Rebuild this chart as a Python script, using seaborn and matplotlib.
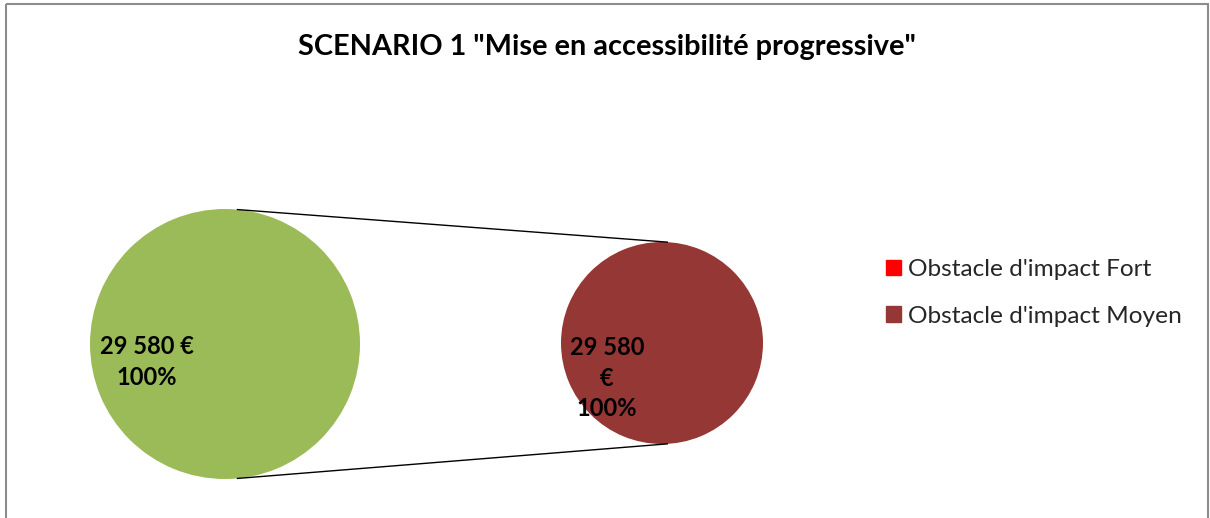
import matplotlib
matplotlib.use("Agg")
import matplotlib.pyplot as plt
import matplotlib.patches as mpatches
import numpy as np
import seaborn as sns

# Data
title = 'SCENARIO 1 "Mise en accessibilité progressive"'
main_labels = ["Total"]
main_values = [29580]
sub_labels = ["Obstacle d'impact Fort", "Obstacle d'impact Moyen"]
sub_values = [0, 29580]

main_color = "#9BBB59"
sub_colors = ["#FF0000", "#953735"]

sns.set_theme(style="white")
plt.rcParams["font.family"] = ["Lato", "DejaVu Sans"]

W, H = 1210, 518
fig = plt.figure(figsize=(W / 100, H / 100), dpi=100)
ax = fig.add_axes([0, 0, 1, 1])

def fmt_eur(v):
    return f"{v:,.0f}".replace(",", " ") + " €"

# Main pie
c1, r1 = (225, 344), 135
ax.pie(main_values, colors=[main_color], center=c1, radius=r1,
       startangle=90, counterclock=False,
       wedgeprops=dict(linewidth=0))

# Secondary pie (breakdown)
c2, r2 = (662, 343), 101
ax.pie(sub_values, colors=sub_colors, center=c2, radius=r2,
       startangle=90, counterclock=False,
       wedgeprops=dict(linewidth=0))

# Connector lines between the two pies
a1 = np.deg2rad(85)
a2 = np.deg2rad(86.6)
for s in (1, -1):
    x0 = c1[0] + r1 * np.cos(a1)
    y0 = c1[1] - s * r1 * np.sin(a1)
    x1 = c2[0] + r2 * np.cos(a2)
    y1 = c2[1] - s * r2 * np.sin(a2)
    ax.plot([x0, x1], [y0, y1], color="black", lw=1.0, solid_capstyle="butt")

ax.set_xlim(0, W)
ax.set_ylim(H, 0)
ax.set_aspect("auto")
ax.axis("off")

# Value labels
total = sum(main_values)
ax.text(147, 362, f"{fmt_eur(main_values[0])}\n{main_values[0] / total:.0%}",
        ha="center", va="center", fontsize=17, fontweight="bold",
        color="black", linespacing=1.4)
sub_total = sum(sub_values)
v = sub_values[1]
ax.text(607, 378, f"{fmt_eur(v).replace(' €', '')}\n€\n{v / sub_total:.0%}",
        ha="center", va="center", fontsize=17, fontweight="bold",
        color="black", linespacing=1.4)

# Title
ax.text(607, 47, title, ha="center", va="center", fontsize=20.8,
        fontweight="bold", color="black")

# Legend
handles = [mpatches.Patch(color=c, label=l) for c, l in zip(sub_colors, sub_labels)]
leg = fig.legend(handles=handles, loc="center left",
                 bbox_to_anchor=(886 / W, 1 - 293 / H), frameon=False,
                 fontsize=17.6, handlelength=0.6, handleheight=0.6,
                 handletextpad=0.3, labelspacing=1.05, borderpad=0,
                 borderaxespad=0)

# Chart frame
ax.add_patch(mpatches.Rectangle((6, 4), W - 8, H + 10, fill=False,
                                edgecolor="#8C8C8C", lw=1.5, clip_on=False))

fig.savefig("out.png", dpi=100, facecolor="white")
